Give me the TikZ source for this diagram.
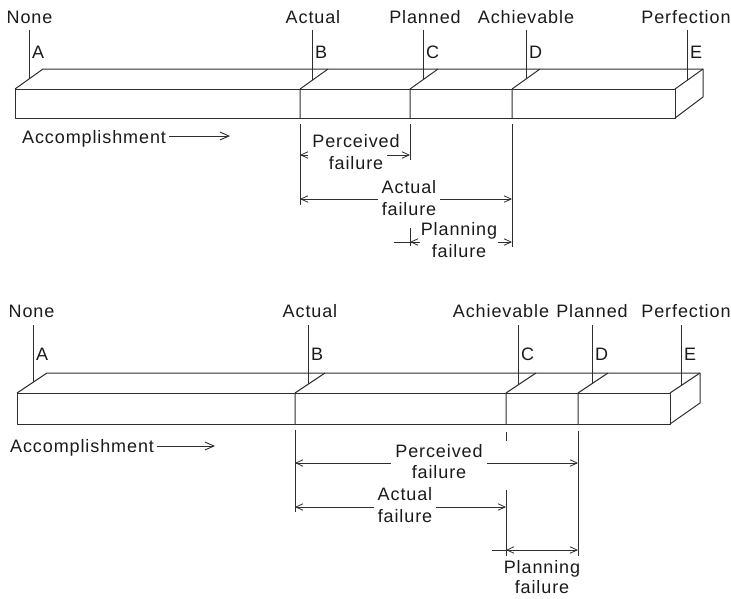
\documentclass[tikz,border=0pt]{standalone}
\usepackage{fontspec}
\setmainfont{Liberation Sans}[LetterSpace=5]
\usetikzlibrary{arrows.meta}

\definecolor{ink}{HTML}{2E2E2E}
\definecolor{txt}{HTML}{1A1A1A}

\begin{document}
\begin{tikzpicture}[x=1pt,y=-1pt,
  bar/.style={draw=ink, line width=1pt, line join=round},
  tick/.style={draw=ink, line width=0.9pt},
  ext/.style={draw=ink, line width=0.8pt},
  dimto/.style={draw=ink, line width=0.8pt, -{Straight Barb[length=7pt,width=6.5pt]}},
  dimboth/.style={draw=ink, line width=0.8pt,
    {Straight Barb[length=7pt,width=6.5pt]}-{Straight Barb[length=7pt,width=6.5pt]}},
  acc/.style={draw=ink, line width=0.9pt, -{Straight Barb[length=9pt,width=8pt]}},
  lbl/.style={font=\fontsize{18}{21}\selectfont, text=txt, inner sep=0pt},
  dimlbl/.style={lbl, inner xsep=4pt},
]
\useasboundingbox (0,0) rectangle (731,598);

% ---------------- upper scale ----------------
% bar drawn as a box in oblique view
\draw[bar] (15,89) rectangle (675,118);
\draw[bar] (15,89) -- (43,69) -- (703,69) -- (703,97) -- (675,118);
\draw[bar] (675,89) -- (703,69);
\foreach \f in {300,410,512}
  \draw[bar] (\f,89) -- (\f,118) (\f,89) -- ++(28,-20);

% marker ticks rising from the top face
\foreach \f/\o in {15/14,300/12,410/13,512/14,675/12}
  \draw[tick] (\f+\o,30) -- (\f+\o,89-\o*20/28);

% level names and letters
\node[lbl, anchor=base] (uNone)  at (29.5,23) {None};
\node[lbl, anchor=base] (uAct)   at (313,23)  {Actual};
\node[lbl, anchor=base] (uPlan)  at (425,23)  {Planned};
\node[lbl, anchor=base] (uAch)   at (526,23)  {Achievable};
\node[lbl, anchor=base] (uPerf)  at (686,23)  {Perfection};
\node[lbl, anchor=base west] (uA) at (32,58)  {A};
\node[lbl, anchor=base west] (uB) at (315,58) {B};
\node[lbl, anchor=base west] (uC) at (426,58) {C};
\node[lbl, anchor=base west] (uD) at (529,58) {D};
\node[lbl, anchor=base west] (uE) at (690,58) {E};

% accomplishment direction
\node[lbl, anchor=base west, inner xsep=3pt] (uAcc) at (19,143) {Accomplishment};
\coordinate (uAccEnd) at (230,136);
\draw[acc] (uAcc.east |- uAccEnd) -- (uAccEnd);

% extension lines
\draw[ext] (300,124) -- (300,205);
\draw[ext] (410,124) -- (410,160);
\draw[ext] (512,124) -- (512,247);
\draw[ext] (410,228) -- (410,246);

% perceived failure
\coordinate (uPL) at (300,155);
\coordinate (uPR) at (410,155);
\node[dimlbl, anchor=base] (uPer1) at (356,147) {Perceived};
\node[dimlbl, anchor=base] (uPer2) at (356,169) {failure};
\draw[dimto] (uPer1.west |- uPL) -- (uPL);
\draw[dimto] (uPer2.east |- uPR) -- (uPR);

% actual failure
\coordinate (uAL) at (300,199);
\coordinate (uAR) at (512,199);
\node[dimlbl, anchor=base] (uActF1) at (409,193) {Actual};
\node[dimlbl, anchor=base] (uActF2) at (409,215) {failure};
\draw[dimto] (uActF1.west |- uAL) -- (uAL);
\draw[dimto] (uActF1.east |- uAR) -- (uAR);

% planning failure
\coordinate (uNS) at (394,242);
\coordinate (uNL) at (410,242);
\coordinate (uNR) at (512,242);
\node[dimlbl, anchor=base, inner xsep=1pt] (uPlF1) at (459,235) {Planning};
\node[dimlbl, anchor=base] (uPlF2) at (459,257) {failure};
\draw[ext] (uNS) -- (uNL);
\draw[dimto] (uPlF1.west |- uNL) -- (uNL);
\draw[dimto] (uPlF1.east |- uNR) -- (uNR);

% ---------------- lower scale ----------------
\draw[bar] (17,393) rectangle (670,424);
\draw[bar] (17,393) -- (47,373) -- (700,373) -- (700,403) -- (670,424);
\draw[bar] (670,393) -- (700,373);
\foreach \f in {295,506,578}
  \draw[bar] (\f,393) -- (\f,424) (\f,393) -- ++(30,-20);

\foreach \f/\o in {17/16,295/13,506/12,578/14,670/11}
  \draw[tick] (\f+\o,325) -- (\f+\o,393-\o*20/30);

\node[lbl, anchor=base] (lNone)  at (31.5,317) {None};
\node[lbl, anchor=base] (lAct)   at (310,317)  {Actual};
\node[lbl, anchor=base] (lAch)   at (501,317)  {Achievable};
\node[lbl, anchor=base] (lPlan)  at (592,317)  {Planned};
\node[lbl, anchor=base] (lPerf)  at (686,317)  {Perfection};
\node[lbl, anchor=base west] (lA) at (36,360)  {A};
\node[lbl, anchor=base west] (lB) at (311,360) {B};
\node[lbl, anchor=base west] (lC) at (521,360) {C};
\node[lbl, anchor=base west] (lD) at (595,360) {D};
\node[lbl, anchor=base west] (lE) at (684,360) {E};

\node[lbl, anchor=base west, inner xsep=3pt] (lAcc) at (7,452) {Accomplishment};
\coordinate (lAccEnd) at (215,446);
\draw[acc] (lAcc.east |- lAccEnd) -- (lAccEnd);

% extension lines
\draw[ext] (295,430) -- (295,512);
\draw[ext] (506,432) -- (506,441);
\draw[ext] (506,490) -- (506,556);
\draw[ext] (578,431) -- (578,556);

% perceived failure
\coordinate (lPL) at (295,463);
\coordinate (lPR) at (578,463);
\node[dimlbl, anchor=base] (lPer1) at (439,457) {Perceived};
\node[dimlbl, anchor=base] (lPer2) at (439,478) {failure};
\draw[dimto] (lPer1.west |- lPL) -- (lPL);
\draw[dimto] (lPer1.east |- lPR) -- (lPR);

% actual failure
\coordinate (lAL) at (295,507);
\coordinate (lAR) at (506,507);
\node[dimlbl, anchor=base] (lActF1) at (405,500) {Actual};
\node[dimlbl, anchor=base] (lActF2) at (405,522) {failure};
\draw[dimto] (lActF2.west |- lAL) -- (lAL);
\draw[dimto] (lActF2.east |- lAR) -- (lAR);

% planning failure
\coordinate (lNS) at (492,550);
\coordinate (lNL) at (506,550);
\coordinate (lNR) at (578,550);
\draw[ext] (lNS) -- (lNL);
\draw[dimboth] (lNL) -- (lNR);
\node[lbl, anchor=base] (lPlF1) at (542,573) {Planning};
\node[lbl, anchor=base] (lPlF2) at (542,593) {failure};
\end{tikzpicture}
\end{document}
